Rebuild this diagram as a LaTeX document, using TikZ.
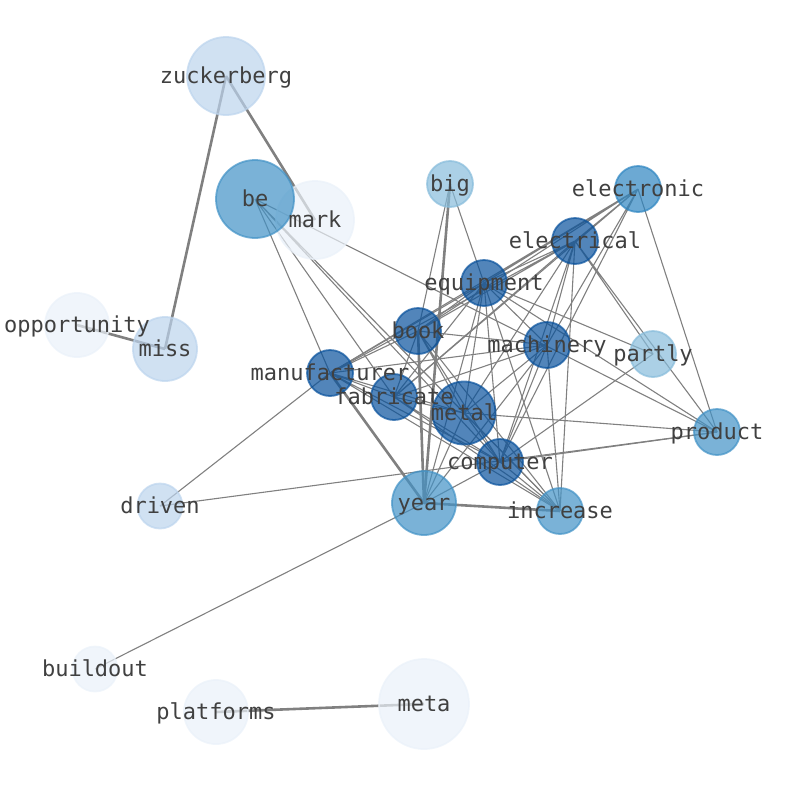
\documentclass[tikz,border=0pt]{standalone}
\usepackage{fontspec}
\setmonofont{DejaVu Sans Mono}
\definecolor{deepblue}{RGB}{8,81,156}
\definecolor{steelblue}{RGB}{45,133,193}
\definecolor{midblue}{RGB}{66,146,198}
\definecolor{skyblue}{RGB}{135,188,219}
\definecolor{paleblue}{RGB}{188,212,237}
\definecolor{iceblue}{RGB}{234,241,249}
\colorlet{linkgray}{black!50}
\colorlet{wordgray}{black!75}
\usetikzlibrary{backgrounds}

\begin{document}
\begin{tikzpicture}[x=1pt, y=-1pt,
  bubble/.style={circle, inner sep=0pt, line width=1.8pt, draw=#1, fill=#1, opacity=0.7},
  word/.style={font=\ttfamily\fontsize{22}{22}\selectfont, text=wordgray, inner sep=0pt, anchor=base, yshift=-7.5pt},
  link/.style={linkgray, line width=1.1pt},
  heavylink/.style={linkgray, line width=2.6pt}]

\useasboundingbox (0,0) rectangle (794,790);

% --- Bubbles (size ~ weight, colour ~ centrality) ---
\node[bubble=paleblue, minimum size=78pt] (zuckerberg) at (226,76) {};
\node[bubble=iceblue, minimum size=78pt] (mark) at (315,220) {};
\node[bubble=midblue, minimum size=78pt] (be) at (255,199) {};
\node[bubble=skyblue, minimum size=46pt] (big) at (450,184) {};
\node[bubble=steelblue, minimum size=46pt] (electronic) at (638,189) {};
\node[bubble=deepblue, minimum size=46pt] (electrical) at (575,241) {};
\node[bubble=deepblue, minimum size=46pt] (equipment) at (484,283) {};
\node[bubble=deepblue, minimum size=46pt] (book) at (418,331) {};
\node[bubble=deepblue, minimum size=46pt] (machinery) at (547,345) {};
\node[bubble=skyblue, minimum size=46pt] (partly) at (653,354) {};
\node[bubble=deepblue, minimum size=46pt] (manufacturer) at (330,373) {};
\node[bubble=deepblue, minimum size=46pt] (fabricate) at (394,397) {};
\node[bubble=deepblue, minimum size=63pt] (metal) at (464,413) {};
\node[bubble=midblue, minimum size=46pt] (product) at (717,432) {};
\node[bubble=deepblue, minimum size=46pt] (computer) at (500,462) {};
\node[bubble=iceblue, minimum size=64pt] (opportunity) at (77,325) {};
\node[bubble=paleblue, minimum size=64pt] (miss) at (165,349) {};
\node[bubble=paleblue, minimum size=45pt] (driven) at (160,506) {};
\node[bubble=midblue, minimum size=64pt] (year) at (424,503) {};
\node[bubble=midblue, minimum size=46pt] (increase) at (560,511) {};
\node[bubble=iceblue, minimum size=45pt] (buildout) at (95,669) {};
\node[bubble=iceblue, minimum size=64pt] (platforms) at (216,712) {};
\node[bubble=iceblue, minimum size=90pt] (meta) at (424,704) {};

% --- Links (drawn behind the bubbles, centre to centre) ---
\begin{scope}[on background layer]
% heavy ones
\draw[heavylink] (zuckerberg.center) -- (mark.center);
\draw[heavylink] (zuckerberg.center) -- (miss.center);
\draw[heavylink] (opportunity.center) -- (miss.center);
\draw[heavylink] (platforms.center) -- (meta.center);
\draw[heavylink] (year.center) -- (increase.center);
\draw[heavylink] (manufacturer.center) -- (year.center);
\draw[heavylink] (big.center) -- (year.center);
\draw[heavylink] (book.center) -- (year.center);

% be
\draw[link] (be.center) -- (manufacturer.center) (be.center) -- (fabricate.center)
  (be.center) -- (metal.center) (be.center) -- (computer.center)
  (be.center) -- (increase.center) (be.center) -- (product.center);
% big
\draw[link] (big.center) -- (book.center) (big.center) -- (equipment.center);
% electronic
\draw[link] (electronic.center) -- (electrical.center) (electronic.center) -- (equipment.center)
  (electronic.center) -- (book.center) (electronic.center) -- (manufacturer.center)
  (electronic.center) -- (fabricate.center) (electronic.center) -- (machinery.center)
  (electronic.center) -- (computer.center) (electronic.center) -- (product.center);
% electrical
\draw[link] (electrical.center) -- (equipment.center) (electrical.center) -- (book.center)
  (electrical.center) -- (manufacturer.center) (electrical.center) -- (fabricate.center)
  (electrical.center) -- (metal.center) (electrical.center) -- (machinery.center)
  (electrical.center) -- (computer.center) (electrical.center) -- (increase.center)
  (electrical.center) -- (partly.center) (electrical.center) -- (product.center);
% equipment
\draw[link] (equipment.center) -- (book.center) (equipment.center) -- (manufacturer.center)
  (equipment.center) -- (fabricate.center) (equipment.center) -- (metal.center)
  (equipment.center) -- (machinery.center) (equipment.center) -- (computer.center)
  (equipment.center) -- (increase.center) (equipment.center) -- (year.center)
  (equipment.center) -- (partly.center) (equipment.center) -- (product.center);
% book
\draw[link] (book.center) -- (manufacturer.center) (book.center) -- (fabricate.center)
  (book.center) -- (metal.center) (book.center) -- (machinery.center)
  (book.center) -- (computer.center) (book.center) -- (increase.center);
% manufacturer
\draw[link] (manufacturer.center) -- (fabricate.center) (manufacturer.center) -- (metal.center)
  (manufacturer.center) -- (computer.center) (manufacturer.center) -- (increase.center)
  (manufacturer.center) -- (machinery.center) (manufacturer.center) -- (driven.center);
% fabricate
\draw[link] (fabricate.center) -- (metal.center) (fabricate.center) -- (computer.center)
  (fabricate.center) -- (increase.center) (fabricate.center) -- (machinery.center);
% metal
\draw[link] (metal.center) -- (computer.center) (metal.center) -- (increase.center)
  (metal.center) -- (machinery.center) (metal.center) -- (product.center)
  (metal.center) -- (year.center);
% computer
\draw[link] (computer.center) -- (increase.center) (computer.center) -- (machinery.center)
  (computer.center) -- (partly.center) (computer.center) -- (product.center)
  (computer.center) -- (year.center);
% the rest
\draw[link] (machinery.center) -- (increase.center) (machinery.center) -- (year.center);
\draw[link] (driven.center) -- (product.center);
\draw[link] (year.center) -- (buildout.center);
\end{scope}

% --- Words on top ---
\node[word] (zuckerberg-w) at (zuckerberg) {zuckerberg};
\node[word] (mark-w) at (mark) {mark};
\node[word] (be-w) at (be) {be};
\node[word] (big-w) at (big) {big};
\node[word] (electronic-w) at (electronic) {electronic};
\node[word] (electrical-w) at (electrical) {electrical};
\node[word] (equipment-w) at (equipment) {equipment};
\node[word] (book-w) at (book) {book};
\node[word] (machinery-w) at (machinery) {machinery};
\node[word] (partly-w) at (partly) {partly};
\node[word] (manufacturer-w) at (manufacturer) {manufacturer};
\node[word] (fabricate-w) at (fabricate) {fabricate};
\node[word] (metal-w) at (metal) {metal};
\node[word] (product-w) at (product) {product};
\node[word] (computer-w) at (computer) {computer};
\node[word] (opportunity-w) at (opportunity) {opportunity};
\node[word] (miss-w) at (miss) {miss};
\node[word] (driven-w) at (driven) {driven};
\node[word] (year-w) at (year) {year};
\node[word] (increase-w) at (increase) {increase};
\node[word] (buildout-w) at (buildout) {buildout};
\node[word] (platforms-w) at (platforms) {platforms};
\node[word] (meta-w) at (meta) {meta};

\end{tikzpicture}
\end{document}
